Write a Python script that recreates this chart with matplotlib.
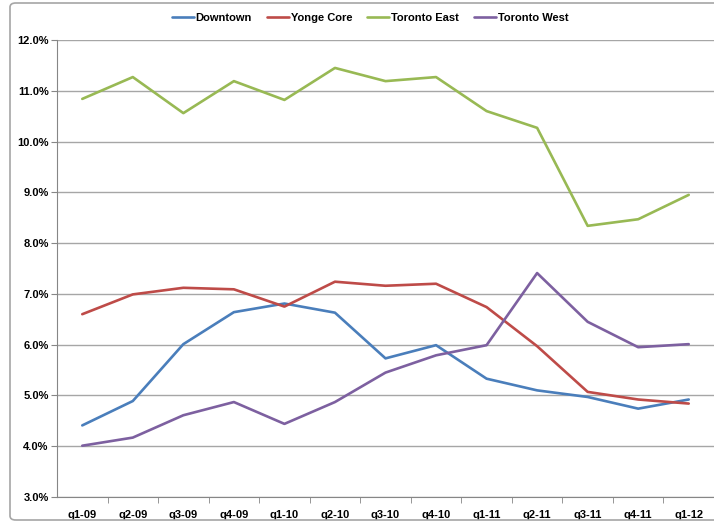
import matplotlib
matplotlib.use("Agg")
import matplotlib.pyplot as plt
from matplotlib.patches import FancyBboxPatch
from matplotlib.ticker import FuncFormatter, FixedLocator

plt.rcParams['font.family'] = ['Liberation Sans', 'DejaVu Sans']

quarters = ['q1-09', 'q2-09', 'q3-09', 'q4-09', 'q1-10', 'q2-10', 'q3-10',
            'q4-10', 'q1-11', 'q2-11', 'q3-11', 'q4-11', 'q1-12']

# vacancy rates, percent
downtown = [4.41, 4.89, 6.01, 6.64, 6.81, 6.63, 5.73, 5.99, 5.33, 5.10, 4.97, 4.74, 4.92]
yonge_core = [6.60, 6.99, 7.12, 7.09, 6.75, 7.24, 7.16, 7.20, 6.74, 5.97, 5.07, 4.92, 4.84]
toronto_east = [10.84, 11.27, 10.56, 11.19, 10.82, 11.45, 11.19, 11.27, 10.60, 10.27, 8.34, 8.47, 8.95]
toronto_west = [4.01, 4.17, 4.61, 4.87, 4.44, 4.87, 5.45, 5.79, 5.99, 7.41, 6.45, 5.95, 6.01]

series = [
    ('Downtown', downtown, '#4A7EBB'),
    ('Yonge Core', yonge_core, '#BE4B48'),
    ('Toronto East', toronto_east, '#98B954'),
    ('Toronto West', toronto_west, '#7D60A0'),
]

W, H = 714, 523
fig = plt.figure(figsize=(W / 100, H / 100), dpi=100)

# outer chart border
border = FancyBboxPatch((10 / W, 3 / H), 1.0, (520 - 3) / H,
                        boxstyle='round,pad=0,rounding_size=0.008',
                        transform=fig.transFigure, fill=False,
                        edgecolor='#A6A6A6', lw=1.2, clip_on=False)
fig.patches.append(border)

ax = fig.add_axes([57 / W, 1 - 497 / H, 1 - 57 / W, (497 - 40) / H])

x = list(range(len(quarters)))
for name, vals, color in series:
    ax.plot(x, vals, color=color, lw=1.9, label=name, solid_capstyle='round')

ax.set_xlim(-0.5, len(quarters) - 0.5)
ax.set_ylim(3, 12)
ax.yaxis.set_major_locator(FixedLocator(range(3, 13)))
ax.yaxis.set_major_formatter(FuncFormatter(lambda v, p: f'{v:.1f}%'))
ax.grid(axis='y', color='#A6A6A6', lw=1)
ax.set_axisbelow(True)

ax.set_xticks(x)
ax.set_xticklabels(quarters)
ax.set_xticks([i + 0.5 for i in range(len(quarters) - 1)], minor=True)
ax.tick_params(axis='x', which='major', length=0, pad=9)
ax.tick_params(axis='x', which='minor', length=4, color='#868686')
ax.tick_params(axis='y', length=4, color='#868686', pad=2)
for lab in ax.get_xticklabels() + ax.get_yticklabels():
    lab.set_fontweight('bold')
    lab.set_fontsize(8)

for s in ['top', 'right']:
    ax.spines[s].set_visible(False)
for s in ['left', 'bottom']:
    ax.spines[s].set_color('#868686')

fig.legend(loc='center', bbox_to_anchor=(370 / W, 1 - 18 / H), ncol=4,
           frameon=False, prop={'weight': 'bold', 'size': 8},
           handlelength=2.0, handletextpad=0.15, columnspacing=1.35,
           borderpad=0)

fig.savefig('out.png', dpi=100)
